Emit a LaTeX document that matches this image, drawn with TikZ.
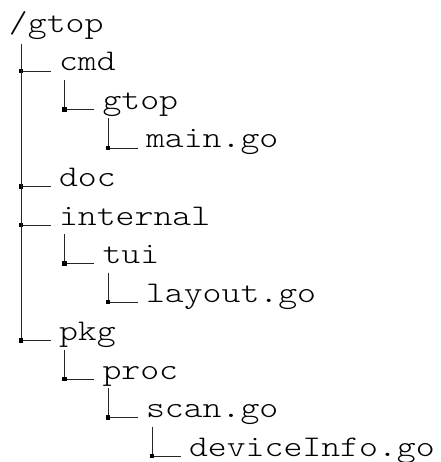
\documentclass[tikz,border=0pt]{standalone}
\usepackage{fontspec}
\setmonofont[FakeStretch=1.2]{Latin Modern Mono Light}
\begin{document}
\begin{tikzpicture}[x=1pt,y=-1pt,
  entry/.style={font=\ttfamily\fontsize{30}{30}\selectfont, anchor=base west,
                inner sep=0pt, outer sep=0pt},
  branch/.style={line width=0.9pt, draw=black!85},
  knot/.style={rectangle, fill=black, minimum size=4.2pt, inner sep=0pt}]
\useasboundingbox (0,0) rectangle (440,462);

% directory entries, one row every 38.5 units
\node[entry] (root)   at (9,33)      {/gtop};
\node[entry] (cmd)    at (59,71)     {cmd};
\node[entry] (gtop)   at (102.5,109.5) {gtop};
\node[entry] (main)   at (146,148)   {main.go};
\node[entry] (doc)    at (59,186.5)  {doc};
\node[entry] (intl)   at (59,225)    {internal};
\node[entry] (tui)    at (102.5,263.5) {tui};
\node[entry] (layout) at (146,302)   {layout.go};
\node[entry] (pkg)    at (59,340.5)  {pkg};
\node[entry] (proc)   at (102.5,379) {proc};
\node[entry] (scan)   at (146,417.5) {scan.go};
\node[entry] (dev)    at (189,456)   {deviceInfo.go};

% tops of the vertical stems below each parent
\coordinate (s-root) at (21,44);
\coordinate (s-cmd)  at (64.5,80);
\coordinate (s-gtop) at (108,118.5);
\coordinate (s-intl) at (64.5,234);
\coordinate (s-tui)  at (108,272.5);
\coordinate (s-pkg)  at (64.5,349.5);
\coordinate (s-proc) at (108,388);
\coordinate (s-scan) at (152,426.5);

% stems and branches
\foreach \s/\c in {root/cmd, root/doc, root/intl, root/pkg,
                   cmd/gtop, gtop/main, intl/tui, tui/layout,
                   pkg/proc, proc/scan, scan/dev}{
  \draw[branch] (s-\s) |- ([xshift=-8.5pt]\c.base west);
  \node[knot] (k-\c) at (s-\s |- \c.base) {};
}
\end{tikzpicture}
\end{document}
